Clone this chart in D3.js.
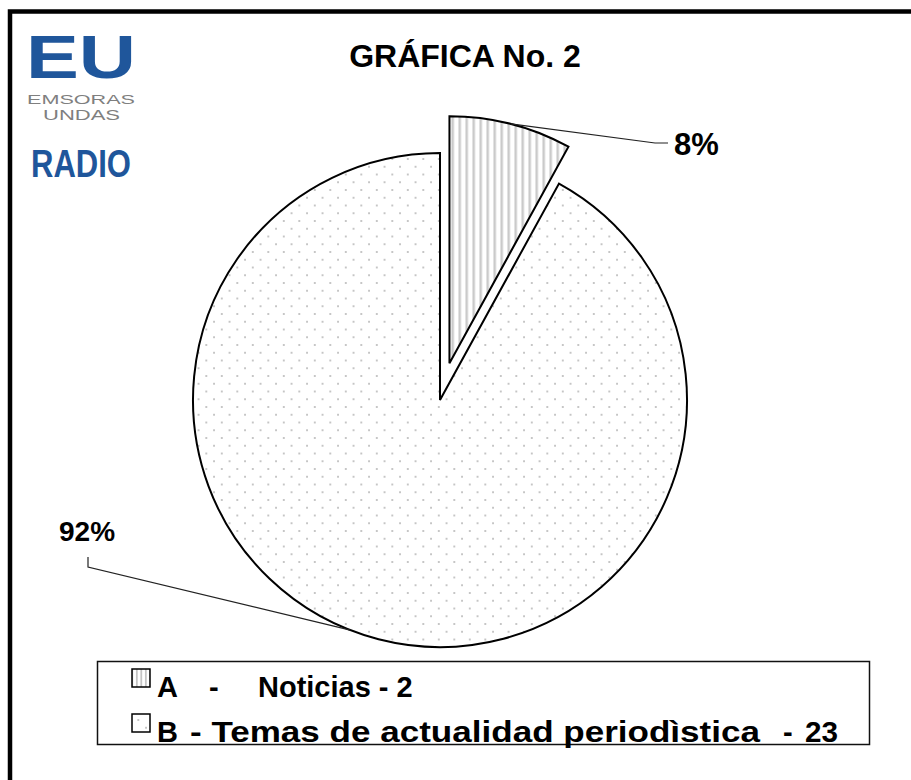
<!DOCTYPE html>
<html>
<head>
<meta charset="utf-8">
<script src="https://cdn.jsdelivr.net/npm/d3@7"></script>
<style>
  html, body { margin: 0; padding: 0; background: #fff; }
  svg { display: block; }
</style>
</head>
<body>
<svg id="chart" width="911" height="780"></svg>
<script>
// Datos de la gráfica
const categories = ['A', 'B'];
const themes = ['Noticias', 'Temas de actualidad periodìstica'];
const values = [2, 23];
const percentLabels = ['8%', '92%'];
const title = 'GRÁFICA No. 2';

const width = 911;
const height = 780;
const svg = d3.select('#chart');

// Patrones de relleno (rayas verticales y puntos)
const defs = svg.append('defs');
const stripes = defs.append('pattern')
  .attr('id', 'stripes')
  .attr('patternUnits', 'userSpaceOnUse')
  .attr('width', 7)
  .attr('height', 7);
stripes.append('rect').attr('width', 7).attr('height', 7).attr('fill', '#fff');
stripes.append('rect').attr('x', 2).attr('width', 2.5).attr('height', 7).attr('fill', '#cacaca');

const stripesSmall = defs.append('pattern')
  .attr('id', 'stripesSmall')
  .attr('patternUnits', 'userSpaceOnUse')
  .attr('width', 4.5)
  .attr('height', 4.5);
stripesSmall.append('rect').attr('width', 4.5).attr('height', 4.5).attr('fill', '#fff');
stripesSmall.append('rect').attr('x', 1).attr('width', 1.6).attr('height', 4.5).attr('fill', '#bdbdbd');

const dots = defs.append('pattern')
  .attr('id', 'dots')
  .attr('patternUnits', 'userSpaceOnUse')
  .attr('x', 14.3)
  .attr('y', 7)
  .attr('width', 15.5)
  .attr('height', 15.5);
dots.append('rect').attr('width', 15.5).attr('height', 15.5).attr('fill', '#fff');
[[0, 0], [7.75, 7.75], [15.5, 15.5], [15.5, 0], [0, 15.5]].forEach(p => {
  dots.append('rect')
    .attr('x', p[0] - 0.9).attr('y', p[1] - 0.9)
    .attr('width', 1.8).attr('height', 1.8)
    .attr('fill', '#bcbcbc');
});

const fills = ['url(#stripes)', 'url(#dots)'];
const swatchFills = ['url(#stripesSmall)', 'url(#dots)'];

// Fondo y marco
svg.append('rect').attr('width', width).attr('height', height).attr('fill', '#fff');
svg.append('rect')
  .attr('x', 10).attr('y', 11.5)
  .attr('width', width + 20).attr('height', height + 20)
  .attr('fill', 'none')
  .attr('stroke', '#000')
  .attr('stroke-width', 4.5);

// Logo (Emisoras Unidas)
const logo = svg.append('g').attr('font-family', 'Liberation Sans, Arial, sans-serif').attr('font-weight', 'bold');
logo.append('text')
  .attr('x', 26).attr('y', 78)
  .attr('font-size', 62)
  .attr('textLength', 110).attr('lengthAdjust', 'spacingAndGlyphs')
  .attr('fill', '#1f569b')
  .text('EU');
logo.append('text')
  .attr('x', 27).attr('y', 104)
  .attr('font-size', 13).attr('font-weight', 'normal')
  .attr('textLength', 108).attr('lengthAdjust', 'spacingAndGlyphs')
  .attr('fill', '#7f7f7f')
  .text('EMSORAS');
logo.append('text')
  .attr('x', 43).attr('y', 120)
  .attr('font-size', 14).attr('font-weight', 'normal')
  .attr('textLength', 77).attr('lengthAdjust', 'spacingAndGlyphs')
  .attr('fill', '#7f7f7f')
  .text('UNDAS');
logo.append('text')
  .attr('x', 31).attr('y', 177)
  .attr('font-size', 39)
  .attr('textLength', 100).attr('lengthAdjust', 'spacingAndGlyphs')
  .attr('fill', '#1f569b')
  .text('RADIO');

// Título
svg.append('text')
  .attr('x', 465).attr('y', 67)
  .attr('text-anchor', 'middle')
  .attr('font-family', 'Liberation Sans, Arial, sans-serif')
  .attr('font-weight', 'bold')
  .attr('font-size', 32)
  .text(title);

// Pastel
const cx = 440, cy = 400, radius = 247, explode = 38;
const pie = d3.pie().sort(null)(values);
const arc = d3.arc().innerRadius(0).outerRadius(radius);

const slices = svg.append('g').attr('transform', `translate(${cx},${cy})`);
slices.selectAll('path')
  .data(pie)
  .enter()
  .append('path')
  .attr('transform', (d, i) => {
    if (i !== 0) return null;
    const mid = (d.startAngle + d.endAngle) / 2;
    return `translate(${explode * Math.sin(mid)},${-explode * Math.cos(mid)})`;
  })
  .attr('d', arc)
  .attr('fill', (d, i) => fills[i])
  .attr('stroke', '#000')
  .attr('stroke-width', 2)
  .attr('stroke-linejoin', 'miter');

// Etiquetas de porcentaje con líneas guía
const labelLayout = [
  { angleShift: 0, offset: explode, elbow: [655, 143], end: [668, 143], tx: 674, ty: 155, size: 31 },
  { angleShift: 0.12, offset: 0, elbow: [88, 567], end: [88, 557], tx: 59, ty: 541, size: 28 }
];
pie.forEach((d, i) => {
  const L = labelLayout[i];
  const mid = (d.startAngle + d.endAngle) / 2;
  const a = mid + L.angleShift;
  const ox = cx + L.offset * Math.sin(mid);
  const oy = cy - L.offset * Math.cos(mid);
  const px = ox + radius * Math.sin(a);
  const py = oy - radius * Math.cos(a);
  svg.append('polyline')
    .attr('points', [[px, py], L.elbow, L.end].map(p => p.join(',')).join(' '))
    .attr('fill', 'none')
    .attr('stroke', '#222')
    .attr('stroke-width', 1.2);
  svg.append('text')
    .attr('x', L.tx).attr('y', L.ty)
    .attr('font-family', 'Liberation Sans, Arial, sans-serif')
    .attr('font-weight', 'bold')
    .attr('font-size', L.size)
    .text(percentLabels[i]);
});

// Leyenda
svg.append('rect')
  .attr('x', 97.5).attr('y', 661.5)
  .attr('width', 772).attr('height', 83)
  .attr('fill', '#fff')
  .attr('stroke', '#111')
  .attr('stroke-width', 1.5);

// la segunda fila del original está estirada a lo ancho
const legendRows = [
  [{ x: 157, t: categories[0] }, { x: 209, t: '-' }, { x: 258, t: `${themes[0]} - ${values[0]}` }],
  [{ x: 157, t: categories[1] }, { x: 190, t: `- ${themes[1]}`, len: 570 },
   { x: 783, t: '-' }, { x: 838, t: `${values[1]}`, anchor: 'end', len: 33 }]
];
legendRows.forEach((row, i) => {
  const y = 669 + i * 45;
  svg.append('rect')
    .attr('x', 132).attr('y', y)
    .attr('width', 18).attr('height', 18)
    .attr('fill', swatchFills[i])
    .attr('stroke', '#000')
    .attr('stroke-width', 1.5);
  row.forEach(part => {
    const t = svg.append('text')
      .attr('x', part.x).attr('y', y + 28)
      .attr('text-anchor', part.anchor || 'start')
      .attr('font-family', 'Liberation Sans, Arial, sans-serif')
      .attr('font-weight', 'bold')
      .attr('font-size', 29)
      .text(part.t);
    if (part.len) {
      t.attr('textLength', part.len).attr('lengthAdjust', 'spacingAndGlyphs');
    }
  });
});
</script>
</body>
</html>
